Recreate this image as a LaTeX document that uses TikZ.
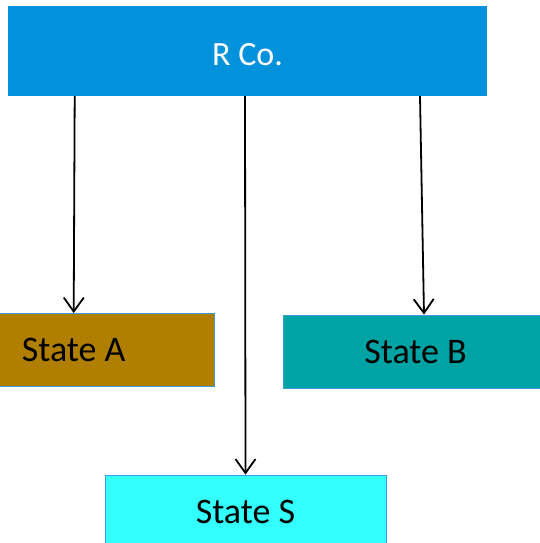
\documentclass[tikz,border=0pt]{standalone}
\usepackage{fontspec}
\setmainfont{Carlito}
\usetikzlibrary{arrows.meta}
\definecolor{rcoblue}{HTML}{0291DB}
\definecolor{stA}{HTML}{B07F00}
\definecolor{stB}{HTML}{00A3A3}
\definecolor{stS}{HTML}{33FFFF}
\definecolor{edge}{HTML}{3C9BE0}
\tikzset{
  box/.style={draw=edge, line width=0.8pt, minimum height=73pt, inner sep=0pt, font=\fontsize{36}{40}\selectfont},
  conn/.style={line width=1.8pt, -{Straight Barb[length=14pt,width=20pt,line width=1.8pt]}}
}
\begin{document}
\begin{tikzpicture}[x=1pt,y=-1pt]
\useasboundingbox (0,0) rectangle (540,543);
\clip (0,0) rectangle (540,543);
\node[fill=rcoblue, draw=none, minimum width=479pt, minimum height=90pt, inner sep=0pt] (rco) at (247.5,51) {};
\node[text=white, font=\fontsize{34}{40}\selectfont, inner sep=0pt] (rcotext) at (247.5,55) {R Co.};
\node[box, fill=stA, minimum width=281pt] (a) at (73.7,350) {State A};
\node[box, fill=stB, minimum width=265pt] (b) at (415.6,351.5) {State B};
\node[box, fill=stS, minimum width=281pt] (s) at (245.5,511.5) {State S};
\draw[conn] ([xshift=-172.8pt]rco.south) -- (a.north);
\draw[conn] ([xshift=-2.5pt]rco.south) -- (s.north);
\draw[conn] ([xshift=172.5pt]rco.south) -- ([xshift=8.4pt]b.north);
\end{tikzpicture}
\end{document}
